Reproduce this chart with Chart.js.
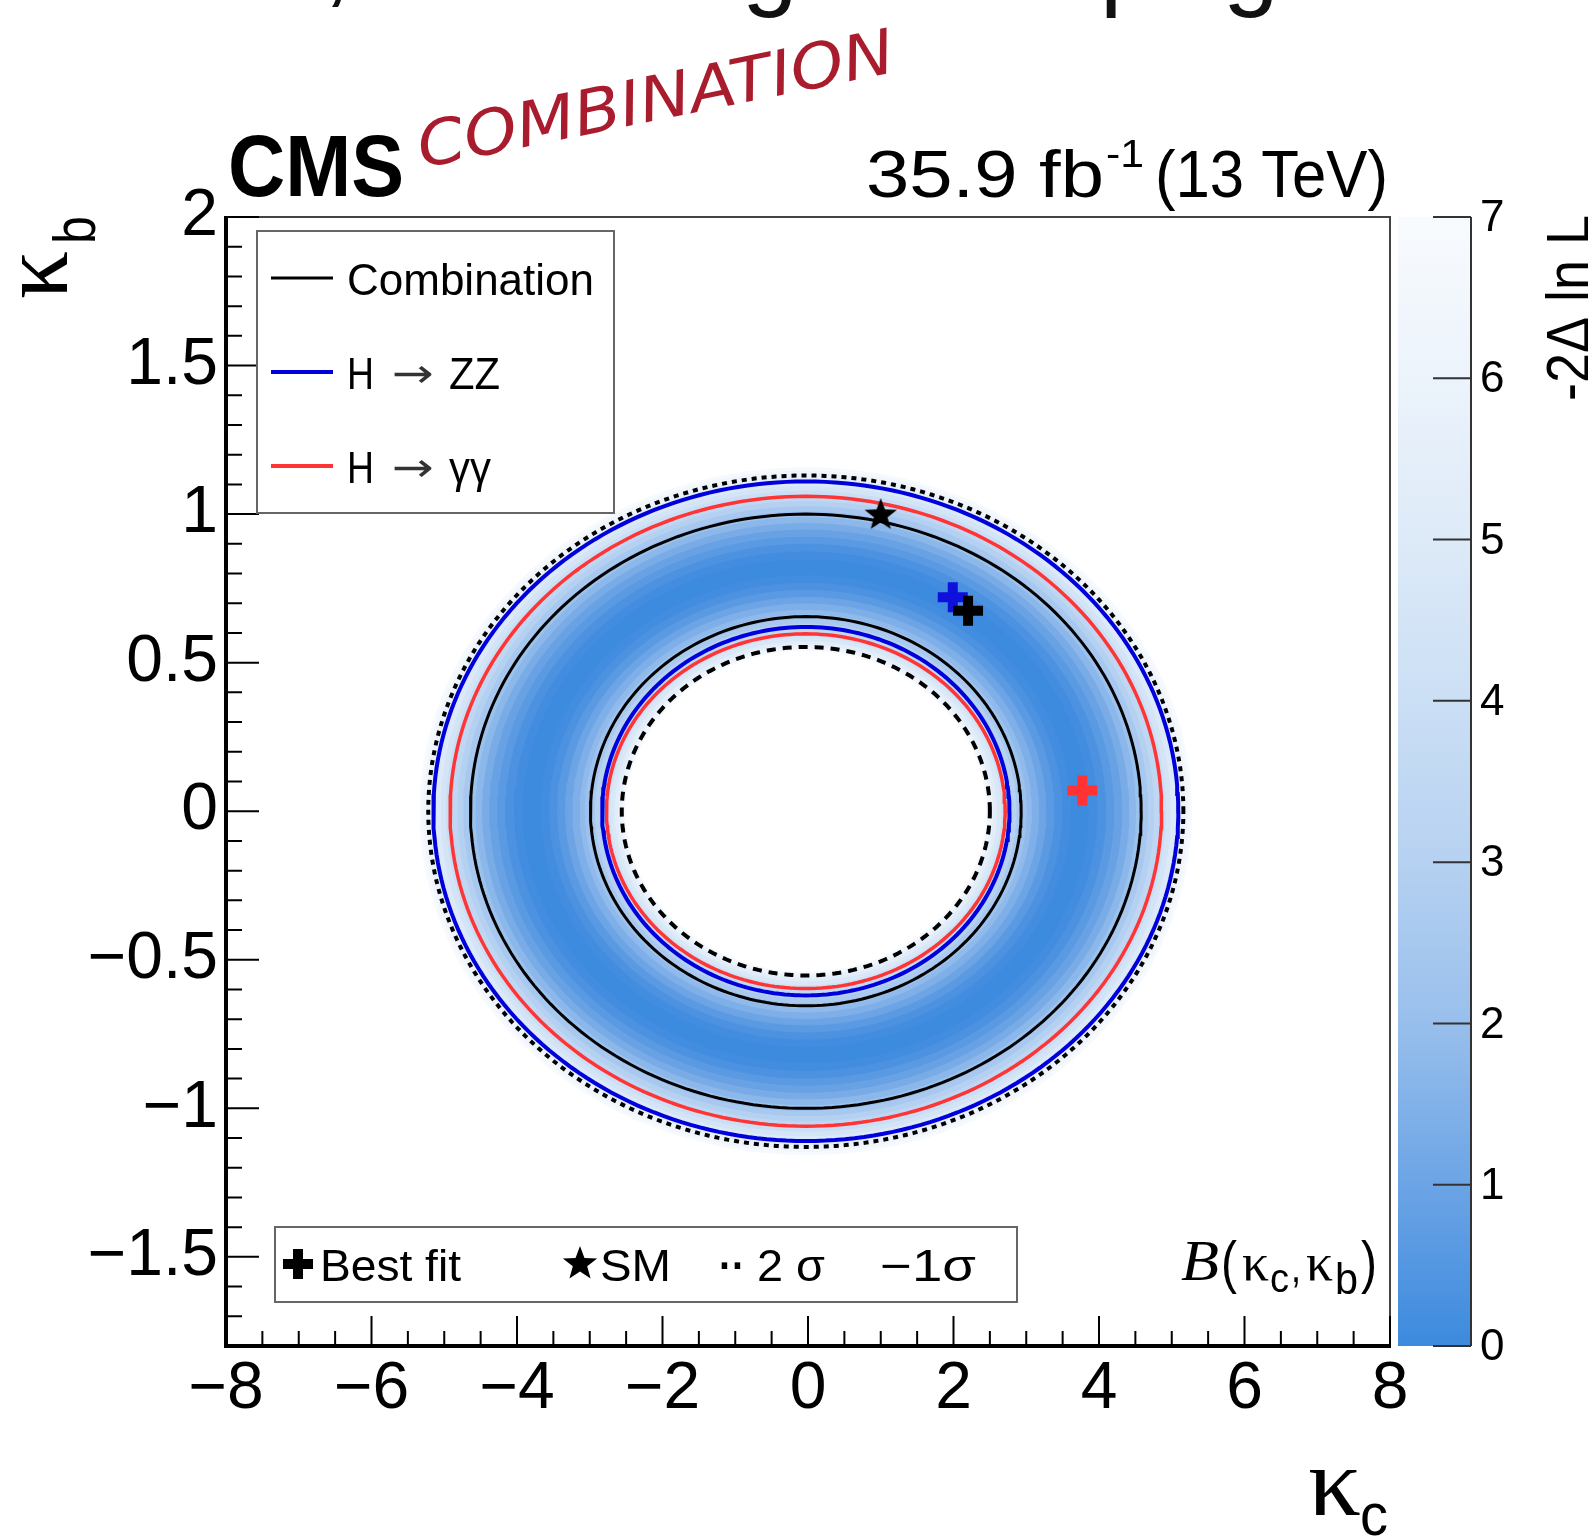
<!DOCTYPE html>
<html>
<head>
<meta charset="utf-8">
<script src="https://cdn.jsdelivr.net/npm/chart.js@4.4.0/dist/chart.umd.min.js"></script>
<style>
  html, body { margin: 0; padding: 0; background: #fff; }
  canvas { display: block; }
</style>
</head>
<body>
<canvas id="kappaChart" width="1588" height="1536"></canvas>
<script>
// tick labels
const xTicks = [-8, -6, -4, -2, 0, 2, 4, 6, 8];
const yTicks = [-1.5, -1, -0.5, 0, 0.5, 1, 1.5, 2];
const zTicks = [0, 1, 2, 3, 4, 5, 6, 7];

// contours, semi-axes [kappa_c, kappa_b]
const ringCenter = [-0.03, 0];
const comb2sOuter = [5.19, 1.13];
const comb2sInner = [2.53, 0.553];
const comb1sOuter = [4.61, 1.0];
const comb1sInner = [2.96, 0.655];
const zz1sOuter = [5.12, 1.11];
const zz1sInner = [2.80, 0.62];
const gg1sOuter = [4.89, 1.06];
const gg1sInner = [2.74, 0.597];

// best fit points and SM
const bestFitComb = [2.2, 0.675];
const bestFitZZ = [1.99, 0.72];
const bestFitGG = [3.77, 0.07];
const smPoint = [1, 1];

// -2 Delta lnL of the combination across the ring
// (rho = half width of the ring along kappa_c, kappa_b half width = rho * profileAspect)
const profileRho = [5.30, 5.25, 5.20, 5.14, 5.08, 5.01, 4.94, 4.86, 4.78, 4.70, 4.62, 4.53, 4.44, 4.34, 4.23, 4.12, 4.00, 3.88,
    3.76, 3.64, 3.52, 3.41, 3.30, 3.20, 3.10, 3.03, 2.96, 2.89, 2.82, 2.75, 2.68, 2.62, 2.57, 2.53, 2.50, 2.47];
const profileNll = [7.0, 6.6, 6.1, 5.7, 5.2, 4.7, 4.2, 3.7, 3.2, 2.75, 2.3, 1.9, 1.5, 1.1, 0.75, 0.45, 0.2, 0.05,
    0.0, 0.05, 0.2, 0.45, 0.8, 1.2, 1.65, 2.0, 2.3, 2.8, 3.3, 3.9, 4.5, 5.1, 5.6, 6.1, 6.6, 7.0];
const profileAspect = 0.218;

// colour palette for 0..7
const paletteRGB = [[60, 138, 222], [108, 164, 229], [152, 191, 236], [182, 209, 241], [203, 223, 245], [221, 234, 248], [236, 243, 251], [248, 251, 254]];

const SANS = '"Liberation Sans", Arial, sans-serif';
const SERIF = '"Liberation Serif", "Times New Roman", serif';

function nllColor(v) {
    if (v >= 7) return '#ffffff';
    const i = Math.min(Math.floor(v), 6);
    const t = v - i;
    const c0 = paletteRGB[i], c1 = paletteRGB[i + 1];
    const c = c0.map((c, k) => Math.round(c + (c1[k] - c) * t));
    return 'rgb(' + c.join(',') + ')';
}

function ellipse(axes) {
    const pts = [];
    const n = 240;
    for (let i = 0; i <= n; i++) {
        const t = i / n * 2 * Math.PI;
        pts.push({ x: ringCenter[0] + axes[0] * Math.cos(t), y: ringCenter[1] + axes[1] * Math.sin(t) });
    }
    return pts;
}

function drawStar(ctx, cx, cy, R) {
    const r = R * 0.42;
    ctx.beginPath();
    for (let i = 0; i < 10; i++) {
        const rad = i % 2 === 0 ? R : r;
        const a = -Math.PI / 2 + i * Math.PI / 5;
        const px = cx + rad * Math.cos(a), py = cy + rad * Math.sin(a);
        if (i === 0) ctx.moveTo(px, py); else ctx.lineTo(px, py);
    }
    ctx.closePath();
    ctx.fill();
}

function drawPlus(ctx, cx, cy, size, thick, color) {
    ctx.fillStyle = color;
    ctx.fillRect(cx - size / 2, cy - thick / 2, size, thick);
    ctx.fillRect(cx - thick / 2, cy - size / 2, thick, size);
}

// text squeezed horizontally to a given width
function fitText(ctx, text, x, y, font, width, color) {
    ctx.save();
    ctx.font = font;
    ctx.fillStyle = color || '#000';
    ctx.textAlign = 'left';
    ctx.textBaseline = 'alphabetic';
    const w = ctx.measureText(text).width;
    ctx.translate(x, y);
    if (width) ctx.scale(width / w, 1);
    ctx.fillText(text, 0, 0);
    ctx.restore();
}

function fmt(v) {
    return String(v).replace('-', '\u2212');
}

// star image for the SM point
const starImg = document.createElement('canvas');
starImg.width = 36;
starImg.height = 36;
(function () {
    const c = starImg.getContext('2d');
    c.fillStyle = '#000';
    drawStar(c, 18, 19, 17);
})();

// datasets
const datasets = [];

// likelihood rings, painted from outside in
for (let i = 0; i < profileRho.length; i++) {
    const last = i === profileRho.length - 1;
    const col = last ? '#ffffff' : nllColor((profileNll[i] + profileNll[i + 1]) / 2);
    datasets.push({
        data: ellipse([profileRho[i], profileRho[i] * profileAspect]),
        showLine: true,
        fill: 'shape',
        backgroundColor: col,
        borderColor: col,
        borderWidth: 1,
        pointRadius: 0,
        order: 500 - i
    });
}

function contour(axes, color, width, dash) {
    datasets.push({
        data: ellipse(axes),
        showLine: true,
        fill: false,
        borderColor: color,
        borderWidth: width,
        borderDash: dash || [],
        pointRadius: 0,
        order: 20
    });
}
contour(zz1sOuter, '#0000dd', 4);
contour(zz1sInner, '#0000dd', 4);
contour(gg1sOuter, '#ff3535', 3.5);
contour(gg1sInner, '#ff3535', 3.5);
contour(comb1sOuter, '#000000', 3);
contour(comb1sInner, '#000000', 3);
contour(comb2sOuter, '#000000', 4, [5, 5]);
contour(comb2sInner, '#000000', 4, [9, 7]);

function marker(p, style, color, order) {
    datasets.push({
        data: [{ x: p[0], y: p[1] }],
        showLine: false,
        pointStyle: style,
        pointRadius: 15,
        pointBorderWidth: 10,
        borderColor: color,
        backgroundColor: color,
        order: order
    });
}
marker(bestFitGG, 'cross', '#ff3333', 3);
marker(bestFitZZ, 'cross', '#1010dd', 2);
marker(bestFitComb, 'cross', '#000000', 1);
marker(smPoint, starImg, '#000000', 0);

const overlay = {
    id: 'overlay',
    beforeDraw(chart) {
        const ctx = chart.ctx;
        ctx.save();
        ctx.fillStyle = '#fff';
        ctx.fillRect(0, 0, chart.width, chart.height);
        ctx.restore();
    },
    afterDraw(chart) {
        const ctx = chart.ctx;
        const xs = chart.scales.x, ys = chart.scales.y;
        const { left, right, top, bottom } = chart.chartArea;
        ctx.save();

        // frame
        ctx.strokeStyle = '#444';
        ctx.lineWidth = 2;
        ctx.beginPath();
        ctx.moveTo(left, top); ctx.lineTo(right, top); ctx.lineTo(right, bottom);
        ctx.stroke();
        ctx.strokeStyle = '#000';
        ctx.lineWidth = 4;
        ctx.beginPath();
        ctx.moveTo(left, top - 1); ctx.lineTo(left, bottom); ctx.lineTo(right + 1, bottom);
        ctx.stroke();

        // ticks inside the frame
        ctx.lineWidth = 2;
        ctx.beginPath();
        for (let k = -16; k <= 16; k++) {
            const px = xs.getPixelForValue(k / 2);
            const len = k % 4 === 0 ? 30 : 15;
            ctx.moveTo(px, bottom); ctx.lineTo(px, bottom - len);
        }
        for (let k = -18; k <= 20; k++) {
            const py = ys.getPixelForValue(k / 10);
            const len = k % 5 === 0 ? 33 : 16;
            ctx.moveTo(left, py); ctx.lineTo(left + len, py);
        }
        ctx.stroke();

        // legend, top left
        ctx.fillStyle = '#fff';
        ctx.fillRect(257, 231, 357, 282);
        ctx.strokeStyle = '#666';
        ctx.lineWidth = 2;
        ctx.strokeRect(257, 231, 357, 282);
        const legRows = [
            { y: 278, color: '#000', w: 3 },
            { y: 372, color: '#0000dd', w: 4 },
            { y: 466, color: '#ff3535', w: 4 }
        ];
        legRows.forEach(r => {
            ctx.strokeStyle = r.color;
            ctx.lineWidth = r.w;
            ctx.beginPath(); ctx.moveTo(271, r.y); ctx.lineTo(333, r.y); ctx.stroke();
        });
        const ARROW = '40px "DejaVu Sans", sans-serif';
        fitText(ctx, 'Combination', 347, 295, '44px ' + SANS, 247);
        fitText(ctx, 'H', 347, 389, '44px ' + SANS, 27);
        fitText(ctx, '\u2192', 392, 387, ARROW, 42, '#333');
        fitText(ctx, 'ZZ', 449, 389, '44px ' + SANS, 51);
        fitText(ctx, 'H', 347, 483, '44px ' + SANS, 27);
        fitText(ctx, '\u2192', 392, 481, ARROW, 42, '#333');
        fitText(ctx, '\u03b3\u03b3', 449, 483, '44px ' + SANS, 42);

        // legend, bottom
        ctx.fillStyle = '#fff';
        ctx.fillRect(275, 1227, 742, 75);
        ctx.strokeStyle = '#666';
        ctx.lineWidth = 2;
        ctx.strokeRect(275, 1227, 742, 75);
        drawPlus(ctx, 298, 1264, 30, 10, '#000');
        fitText(ctx, 'Best fit', 320, 1281, '44px ' + SANS, 141);
        ctx.fillStyle = '#000';
        drawStar(ctx, 580, 1264, 18);
        fitText(ctx, 'SM', 600, 1281, '44px ' + SANS, 71);
        fitText(ctx, '\u00b7\u00b7', 719, 1281, 'bold 44px ' + SANS, 26);
        fitText(ctx, '2 \u03c3', 757, 1281, '44px ' + SANS, 68);
        fitText(ctx, '\u22121\u03c3', 880, 1281, '44px ' + SANS, 96);

        // B(kc, kb)
        fitText(ctx, 'B', 1181, 1280, 'italic 58px ' + SERIF, 38);
        fitText(ctx, '(', 1221, 1282, '58px ' + SANS, 16);
        fitText(ctx, '\u03ba', 1242, 1280, '52px ' + SERIF, 27);
        fitText(ctx, 'c', 1270, 1292, '40px ' + SANS, 19);
        fitText(ctx, ',', 1291, 1282, '44px ' + SANS, 10);
        fitText(ctx, '\u03ba', 1306, 1280, '52px ' + SERIF, 27);
        fitText(ctx, 'b', 1335, 1294, '44px ' + SANS, 23);
        fitText(ctx, ')', 1361, 1282, '58px ' + SANS, 16);

        // axis titles
        fitText(ctx, '\u03ba', 1308, 1515, '98px ' + SERIF, 53);
        fitText(ctx, 'c', 1360, 1535, '60px ' + SANS, 28);
        ctx.save();
        ctx.translate(67, 299);
        ctx.rotate(-Math.PI / 2);
        fitText(ctx, '\u03ba', 0, 0, '98px ' + SERIF, 48);
        fitText(ctx, 'b', 55, 28, '60px ' + SANS, 28);
        ctx.restore();

        // colour bar
        const cbL = 1398, cbR = 1471;
        const grad = ctx.createLinearGradient(0, bottom, 0, top);
        paletteRGB.forEach((c, i) => grad.addColorStop(i / 7, 'rgb(' + c.join(',') + ')'));
        ctx.fillStyle = grad;
        ctx.fillRect(cbL, top, cbR - cbL, bottom - top);
        ctx.strokeStyle = '#333';
        ctx.lineWidth = 2;
        ctx.beginPath();
        ctx.moveTo(cbR, top); ctx.lineTo(cbR, bottom);
        zTicks.forEach(v => {
            const py = bottom - v / 7 * (bottom - top);
            ctx.moveTo(cbR - 38, py); ctx.lineTo(cbR, py);
        });
        ctx.stroke();
        ctx.fillStyle = '#000';
        ctx.font = '44px ' + SANS;
        ctx.textBaseline = 'middle';
        ctx.textAlign = 'left';
        zTicks.forEach(v => {
            const py = bottom - v / 7 * (bottom - top);
            ctx.fillText(String(v), 1480, py + 2);
        });
        ctx.save();
        ctx.translate(1589, 401);
        ctx.rotate(-Math.PI / 2);
        fitText(ctx, '-2\u0394 ln L', 0, 0, '62px ' + SANS, 186);
        ctx.restore();

        // header
        fitText(ctx, 'CMS', 228, 196, 'bold 88px ' + SANS, 176);
        ctx.save();
        ctx.translate(422, 168);
        ctx.rotate(-11.5 * Math.PI / 180);
        fitText(ctx, 'COMBINATION', 0, 0, 'italic 62px "DejaVu Sans", sans-serif', 485, '#a81c2e');
        ctx.restore();
        fitText(ctx, '35.9 fb', 866, 197, '66px ' + SANS, 238);
        fitText(ctx, '-1', 1106, 167, '38px ' + SANS, 38);
        fitText(ctx, '(13 TeV)', 1155, 197, '66px ' + SANS, 233);

        // tail of the slide text above the figure
        ctx.font = '100px ' + SANS;
        ctx.fillStyle = '#111';
        ctx.textBaseline = 'alphabetic';
        ctx.fillText(',', 323, -6);
        ctx.fillText('g', 742, -3);
        ctx.fillText('p', 1100, -3);
        ctx.fillText('g', 1223, -3);

        ctx.restore();
    }
};

new Chart(document.getElementById('kappaChart'), {
    type: 'scatter',
    data: { datasets: datasets },
    options: {
        responsive: false,
        animation: false,
        devicePixelRatio: 1,
        layout: { padding: { top: 217, right: 198, bottom: 0, left: 0 } },
        plugins: { legend: { display: false }, tooltip: { enabled: false } },
        elements: { line: { tension: 0 } },
        scales: {
            x: {
                type: 'linear', min: -8, max: 8,
                grid: { display: false, drawTicks: false },
                border: { display: false },
                afterBuildTicks: s => { s.ticks = xTicks.map(v => ({ value: v })); },
                afterFit: s => { s.height = 190; },
                ticks: {
                    font: { family: SANS, size: 66 }, color: '#000', padding: 4,
                    maxRotation: 0, autoSkip: false, callback: v => fmt(v)
                }
            },
            y: {
                type: 'linear', min: -1.8, max: 2,
                grid: { display: false, drawTicks: false },
                border: { display: false },
                afterBuildTicks: s => { s.ticks = yTicks.map(v => ({ value: v })); },
                afterFit: s => { s.width = 226; },
                ticks: {
                    font: { family: SANS, size: 66 }, color: '#000', padding: 8,
                    autoSkip: false, callback: v => fmt(v)
                }
            }
        }
    },
    plugins: [overlay]
});
</script>
</body>
</html>
